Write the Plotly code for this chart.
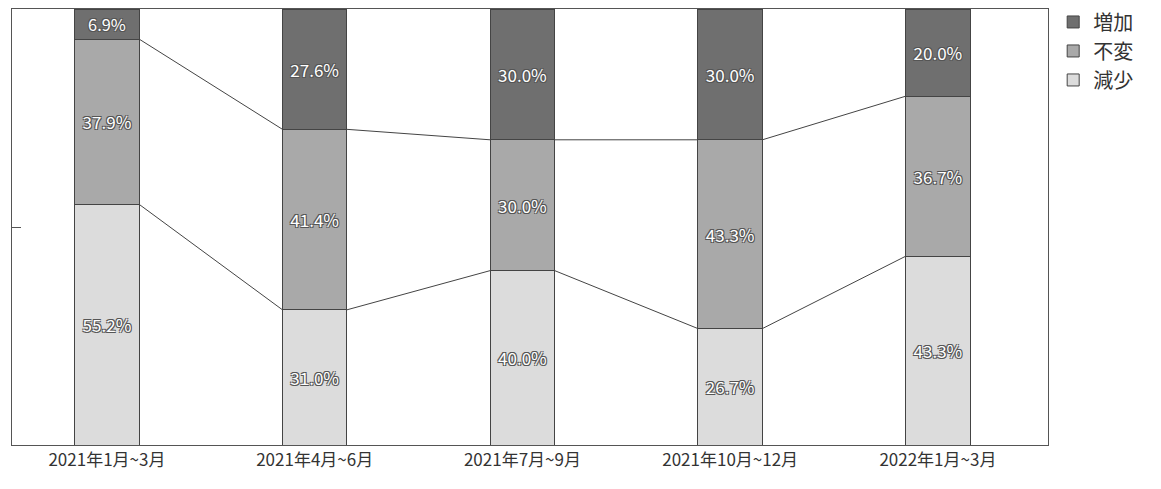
import plotly.graph_objects as go

periods = ["2021年1月~3月", "2021年4月~6月", "2021年7月~9月", "2021年10月~12月", "2022年1月~3月"]
decrease = [55.2, 31.0, 40.0, 26.7, 43.3]
same = [37.9, 41.4, 30.0, 43.3, 36.7]
increase = [6.9, 27.6, 30.0, 30.0, 20.0]

W = 0.31
xs = list(range(len(periods)))
shadow = "1px 1px 0 #555, -1px -1px 0 #555, 1px -1px 0 #555, -1px 1px 0 #555"

fig = go.Figure()
for name, vals, col in [("減少", decrease, "#dcdcdc"), ("不変", same, "#a9a9a9"), ("増加", increase, "#6f6f6f")]:
    fig.add_trace(go.Bar(
        x=xs, y=vals, name=name, width=W,
        marker=dict(color=col, line=dict(color="#444", width=1)),
        text=[f"{v:.1f}%" for v in vals], textposition="inside", insidetextanchor="middle",
        textfont=dict(color="white", size=17, family="Noto Sans CJK JP", shadow=shadow),
        cliponaxis=False,
    ))

# connecting lines between segment boundaries
for level in (decrease, [d + s for d, s in zip(decrease, same)]):
    lx, ly = [], []
    for i in range(len(xs) - 1):
        lx += [xs[i] + W / 2, xs[i + 1] - W / 2, None]
        ly += [level[i], level[i + 1], None]
    fig.add_trace(go.Scatter(x=lx, y=ly, mode="lines", line=dict(color="#444", width=1),
                             showlegend=False, hoverinfo="skip"))

fig.update_layout(
    barmode="stack", width=1161, height=489,
    margin=dict(l=4, r=121, t=1, b=52, autoexpand=False),
    plot_bgcolor="white", paper_bgcolor="white",
    font=dict(family="Noto Sans CJK JP", color="#333"),
    legend=dict(x=1.005, y=1.015, xanchor="left", yanchor="top", font=dict(size=20),
                traceorder="reversed", itemwidth=30),
    showlegend=True,
)
fig.update_xaxes(range=[-0.457, 4.53], tickvals=xs, ticktext=periods, showline=True, mirror=True,
                 linecolor="#555", showgrid=False, ticks="", tickfont=dict(size=17, family="Noto Sans CJK JP"))
fig.update_yaxes(range=[0, 100], tickvals=[50], showticklabels=False, ticks="inside", ticklen=9,
                 tickcolor="#555", showline=True, mirror=True, linecolor="#555", showgrid=False, zeroline=False)
fig.write_html("out.html")
